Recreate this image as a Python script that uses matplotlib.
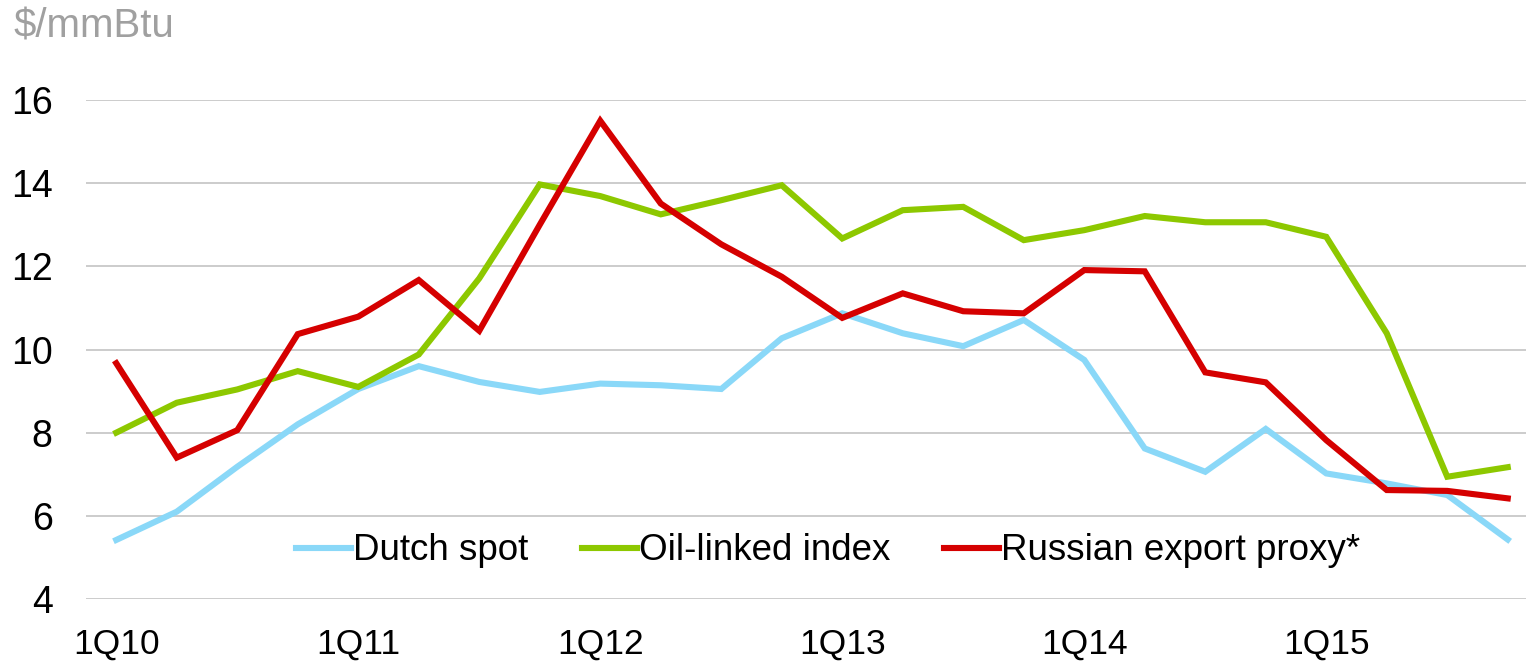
import matplotlib
matplotlib.use("Agg")
import matplotlib.pyplot as plt

quarters = [f"{q}Q{y}" for y in range(10, 16) for q in range(1, 5)]
tick_labels = ["1Q10", "1Q11", "1Q12", "1Q13", "1Q14", "1Q15"]

dutch_spot = [5.42, 6.10, 7.18, 8.20, 9.05, 9.60, 9.22, 8.98, 9.18, 9.14, 9.05, 10.27,
              10.87, 10.39, 10.08, 10.71, 9.75, 7.62, 7.06, 8.09, 7.02, 6.78, 6.50, 5.43]
oil_linked = [8.00, 8.72, 9.04, 9.48, 9.10, 9.88, 11.71, 13.97, 13.69, 13.25, 13.59, 13.95,
              12.67, 13.35, 13.43, 12.63, 12.87, 13.21, 13.06, 13.06, 12.71, 10.39, 6.94, 7.17]
russian_proxy = [9.67, 7.40, 8.06, 10.37, 10.79, 11.67, 10.45, 13.00, 15.50, 13.51, 12.53, 11.75,
                 10.76, 11.35, 10.92, 10.87, 11.91, 11.88, 9.45, 9.21, 7.82, 6.62, 6.60, 6.42]

plt.rcParams['font.family'] = ['Liberation Sans', 'DejaVu Sans']

fig = plt.figure(figsize=(15.26, 6.61), dpi=100)
ax = fig.add_axes([86/1526, 62/661, (1538-86)/1526, 499/661])

x = list(range(len(quarters)))
lw = 4.4
ax.plot(x, dutch_spot, color='#8AD8F8', lw=lw, label='Dutch spot', solid_joinstyle='miter')
ax.plot(x, oil_linked, color='#8DC800', lw=lw, label='Oil-linked index', solid_joinstyle='miter')
ax.plot(x, russian_proxy, color='#D50000', lw=lw, label='Russian export proxy*', solid_joinstyle='miter')

ax.set_xlim(-0.5, 23.5)
ax.set_ylim(4, 16)
ax.set_yticks([4, 6, 8, 10, 12, 14, 16])
ax.set_xticks([quarters.index(t) for t in tick_labels])
ax.set_xticklabels(tick_labels)

for s in ax.spines.values():
    s.set_visible(False)
ax.grid(axis='y', color='#CCCCCC', lw=1.4)
ax.set_axisbelow(True)
ax.tick_params(axis='both', length=0, colors='black')
ax.tick_params(axis='y', pad=24, labelsize=27)
ax.tick_params(axis='x', pad=21, labelsize=25.5)
for lab in ax.get_yticklabels():
    lab.set_horizontalalignment('right')

fig.text(14/1526, 1 - 27/661, '$/mmBtu', color='#A0A0A0', fontsize=29, va='center', ha='left')

leg = fig.legend(loc='center', bbox_to_anchor=(828/1526, 1 - 551/661), ncol=3, frameon=False,
                 fontsize=26.5, handlelength=1.5, handletextpad=0.05, columnspacing=1.45,
                 borderpad=0)

fig.savefig('out.png', dpi=100, facecolor='white')
